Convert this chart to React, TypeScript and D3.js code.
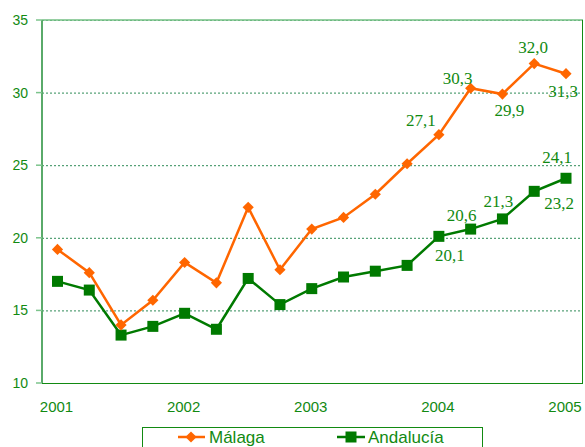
import React, { useEffect, useRef } from "react";
import * as d3 from "d3";

const periods = d3.range(17);
const yearLabels = ["2001", "2002", "2003", "2004", "2005"];
const malaga = [19.2, 17.6, 14.0, 15.7, 18.3, 16.9, 22.1, 17.8, 20.6, 21.4, 23.0, 25.1, 27.1, 30.3, 29.9, 32.0, 31.3];
const andalucia = [17.0, 16.4, 13.3, 13.9, 14.8, 13.7, 17.2, 15.4, 16.5, 17.3, 17.7, 18.1, 20.1, 20.6, 21.3, 23.2, 24.1];
const yTicks = [10, 15, 20, 25, 30, 35];
// which points carry a value label, with offsets [dx, dy] from the point
const malagaLabels = [[12, -18, -9], [13, -13, -4], [14, 7, 22], [15, -1, -11], [16, -3, 23]];
const andaluciaLabels = [[12, 11, 25], [13, -9, -8], [14, -4, -12], [15, 25, 18], [16, -9, -15]];

const App = () => {
  const svgRef = useRef<SVGSVGElement>(null);

  useEffect(() => {
    const w = 585;
    const h = 447;
    const margin = { top: 20, right: 2, bottom: 64, left: 42 };
    const green = "#128a12";
    const sans = "'Liberation Sans', Arial, sans-serif";

    const svg = d3.select(svgRef.current).attr("width", w).attr("height", h);
    svg.selectAll("*").remove();

    const x = d3.scaleLinear().domain([0, 16]).range([57.5, 566]);
    const y = d3.scaleLinear().domain([10, 35]).range([h - margin.bottom, margin.top]);
    const right = w - margin.right;

    // grid
    svg.append("g")
      .selectAll("line")
      .data(yTicks.filter(d => d > 10))
      .join("line")
      .attr("x1", margin.left)
      .attr("x2", right)
      .attr("y1", d => y(d) + 0.5)
      .attr("y2", d => y(d) + 0.5)
      .attr("stroke", "#2e8b57")
      .attr("stroke-dasharray", "2,2");

    // top light line
    svg.append("line")
      .attr("x1", margin.left).attr("x2", right)
      .attr("y1", y(35)).attr("y2", y(35))
      .attr("stroke", "#7cc48c").attr("stroke-width", 2).attr("opacity", 0.8);

    // left axis
    svg.append("line")
      .attr("x1", margin.left).attr("x2", margin.left)
      .attr("y1", y(35)).attr("y2", y(10))
      .attr("stroke", "#5aaa6a").attr("stroke-width", 2);
    svg.append("g")
      .selectAll("line")
      .data(yTicks)
      .join("line")
      .attr("x1", margin.left - 6).attr("x2", margin.left)
      .attr("y1", d => y(d)).attr("y2", d => y(d))
      .attr("stroke", "#7cc48c").attr("stroke-width", 1.5);
    svg.append("g")
      .selectAll("text")
      .data(yTicks)
      .join("text")
      .attr("x", 28)
      .attr("y", d => y(d) + 5)
      .attr("text-anchor", "end")
      .attr("font-family", sans)
      .attr("font-size", 14)
      .attr("fill", green)
      .text(d => d);

    // bottom & right frame
    svg.append("line")
      .attr("x1", margin.left).attr("x2", right)
      .attr("y1", y(10) + 0.5).attr("y2", y(10) + 0.5)
      .attr("stroke", green);
    svg.append("line")
      .attr("x1", right - 0.5).attr("x2", right - 0.5)
      .attr("y1", y(35)).attr("y2", y(10))
      .attr("stroke", green);

    // x labels
    svg.append("g")
      .selectAll("text")
      .data(yearLabels)
      .join("text")
      .attr("x", (d, i) => x(i * 4) - 1)
      .attr("y", 412)
      .attr("text-anchor", "middle")
      .attr("font-family", sans)
      .attr("font-size", 15)
      .attr("fill", green)
      .text(d => d);

    const line = d3.line<number>().x((d, i) => x(periods[i])).y(d => y(d));

    // Andalucía
    svg.append("path")
      .datum(andalucia)
      .attr("d", line)
      .attr("fill", "none")
      .attr("stroke", "#007a00")
      .attr("stroke-width", 2.5);
    svg.append("g")
      .selectAll("rect")
      .data(andalucia)
      .join("rect")
      .attr("x", (d, i) => x(i) - 5.5)
      .attr("y", d => y(d) - 5.5)
      .attr("width", 11)
      .attr("height", 11)
      .attr("fill", "#007a00");

    // Málaga
    svg.append("path")
      .datum(malaga)
      .attr("d", line)
      .attr("fill", "none")
      .attr("stroke", "#ff6600")
      .attr("stroke-width", 2.5);
    const diamond = d3.symbol().type(d3.symbolDiamond2).size(80);
    svg.append("g")
      .selectAll("path")
      .data(malaga)
      .join("path")
      .attr("transform", (d, i) => `translate(${x(i)},${y(d)})`)
      .attr("d", diamond)
      .attr("fill", "#ff6600");

    // value labels
    const fmt = (v: number) => v.toFixed(1).replace(".", ",");
    const addLabels = (vals: number[], spec: number[][]) => {
      svg.append("g")
        .selectAll("text")
        .data(spec)
        .join("text")
        .attr("x", d => x(d[0]) + d[1])
        .attr("y", d => y(vals[d[0]]) + d[2])
        .attr("text-anchor", "middle")
        .attr("font-family", "'Liberation Serif', 'Times New Roman', serif")
        .attr("font-size", 17)
        .attr("fill", green)
        .text(d => fmt(vals[d[0]]));
    };
    addLabels(malaga, malagaLabels);
    addLabels(andalucia, andaluciaLabels);

    // legend
    const lg = svg.append("g");
    lg.append("rect")
      .attr("x", 142.5).attr("y", 427.5)
      .attr("width", 340).attr("height", 30)
      .attr("fill", "white").attr("stroke", green);
    lg.append("line").attr("x1", 178).attr("x2", 205).attr("y1", 437).attr("y2", 437)
      .attr("stroke", "#ff6600").attr("stroke-width", 2.5);
    lg.append("path").attr("transform", "translate(191,437)").attr("d", diamond).attr("fill", "#ff6600");
    lg.append("text").attr("x", 209).attr("y", 443)
      .attr("font-family", sans).attr("font-size", 17)
      .attr("fill", green).text("Málaga");
    lg.append("line").attr("x1", 337).attr("x2", 365).attr("y1", 437).attr("y2", 437)
      .attr("stroke", "#007a00").attr("stroke-width", 2.5);
    lg.append("rect").attr("x", 345.5).attr("y", 431.5).attr("width", 11).attr("height", 11).attr("fill", "#007a00");
    lg.append("text").attr("x", 368).attr("y", 443)
      .attr("font-family", sans).attr("font-size", 17)
      .attr("fill", green).text("Andalucía");
  }, []);

  return (
    <svg ref={svgRef} style={{ position: "absolute", left: 0, top: 0, background: "white" }}></svg>
  );
};

export default App;
